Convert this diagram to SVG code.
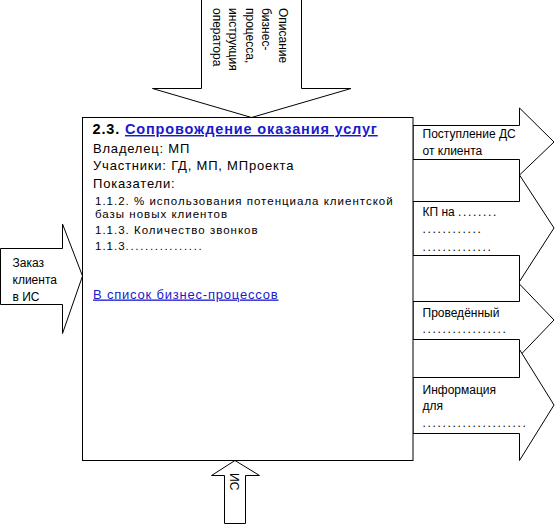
<svg xmlns="http://www.w3.org/2000/svg" width="557" height="525" viewBox="0 0 557 525">
<style>
.shape{fill:#fff;stroke:#000;stroke-width:1;stroke-linejoin:miter}
.gap{fill:none;stroke:#000;stroke-width:1}
.t{font-family:"Liberation Sans",Arial,sans-serif;font-size:12px;fill:#000}
.main{font-family:"Liberation Sans",Arial,sans-serif;font-size:13px;fill:#000;letter-spacing:0.8px}
.small{font-family:"Liberation Sans",Arial,sans-serif;font-size:11.5px;fill:#000;letter-spacing:1px}
.title{font-family:"Liberation Sans",Arial,sans-serif;font-size:14.5px;font-weight:bold;fill:#000;letter-spacing:0.85px}
.link{fill:#1a1acc;text-decoration:underline}
.dots{letter-spacing:1.67px}
</style>
<rect width="557" height="525" fill="#fff"/>
<g id="connectors">
  <g id="in-top">
    <polygon class="shape" points="201.5,-1 301.5,-1 301.5,88.5 351,88.5 251.5,117.5 152.5,88.5 201.5,88.5"/>
    <text class="t" transform="translate(278.5,8) rotate(90)"><tspan x="0" y="0">Описание</tspan><tspan x="0" dy="16.5">бизнес-</tspan><tspan x="0" dy="16.5">процесса,</tspan><tspan x="0" dy="16.5">инструкция</tspan><tspan x="0" dy="16.5">оператора</tspan></text>
  </g>
  <g id="in-left">
    <polygon class="shape" points="0.5,248.5 62.5,248.5 62.5,224 82.5,276 62.5,333.5 62.5,304.5 0.5,304.5"/>
    <text class="t"><tspan x="12.5" y="266.5">Заказ</tspan><tspan x="12.5" y="284">клиента</tspan><tspan x="12.5" y="301">в ИС</tspan></text>
  </g>
  <g id="in-bottom">
    <polygon class="shape" points="224.5,523.5 224.5,475.5 211.5,475.5 235,460.5 259.5,475.5 245.5,475.5 245.5,523.5"/>
    <text class="t" transform="translate(229.5,473) rotate(90)">ИС</text>
  </g>
  <g id="out-gaps">
    <polyline class="gap" points="413,159.5 519.5,159.5 519.5,201.5 413,201.5"/>
    <polyline class="gap" points="413,255.5 519.5,255.5 519.5,301.5 413,301.5"/>
    <polyline class="gap" points="413,339.5 519.5,339.5 519.5,377.5 413,377.5"/>
  </g>
  <g id="out-1">
    <polygon class="shape" points="413,125.5 519.5,125.5 519.5,108 554,142 519.5,175 519.5,159.5 413,159.5"/>
    <text class="t"><tspan x="422.5" y="137.5">Поступление ДС</tspan><tspan x="422.5" y="155">от клиента</tspan></text>
  </g>
  <g id="out-2">
    <polygon class="shape" points="413,201.5 519.5,201.5 519.5,175 554,228 519.5,281.5 519.5,255.5 413,255.5"/>
    <text class="t"><tspan x="422.5" y="216">КП на <tspan class="dots">........</tspan></tspan><tspan x="422.5" y="232.5" class="dots">............</tspan><tspan x="422.5" y="250.5" class="dots">..............</tspan></text>
  </g>
  <g id="out-3">
    <polygon class="shape" points="413,301.5 519.5,301.5 519.5,284 554,320 519.5,356 519.5,339.5 413,339.5"/>
    <text class="t"><tspan x="422.5" y="316.5">Проведённый</tspan><tspan x="422.5" y="333" class="dots">.................</tspan></text>
  </g>
  <g id="out-4">
    <polygon class="shape" points="413,377.5 519.5,377.5 519.5,349.5 554,405 519.5,460.5 519.5,433.5 413,433.5"/>
    <text class="t"><tspan x="422.5" y="393.5">Информация</tspan><tspan x="422.5" y="410">для</tspan><tspan x="422.5" y="426.5" class="dots">.....................</tspan></text>
  </g>
</g>
<g id="process">
  <rect class="shape" x="82.5" y="117.5" width="330.5" height="343"/>
  <text class="title" x="92.5" y="134">2.3. <tspan class="link">Сопровождение оказания услуг</tspan></text>
  <text class="main"><tspan x="93" y="152.5">Владелец: МП</tspan><tspan x="93" y="170">Участники: ГД, МП, МПроекта</tspan><tspan x="93" y="187.5">Показатели:</tspan></text>
  <text class="small"><tspan x="95" y="204.5">1.1.2. % использования потенциала клиентской</tspan><tspan x="95" y="217.5">базы новых клиентов</tspan><tspan x="95" y="234">1.1.3. Количество звонков</tspan><tspan x="95" y="250">1.1.3<tspan class="dots">................</tspan></tspan></text>
  <text class="main link" x="93" y="298.5">В список бизнес-процессов</text>
</g>
</svg>
